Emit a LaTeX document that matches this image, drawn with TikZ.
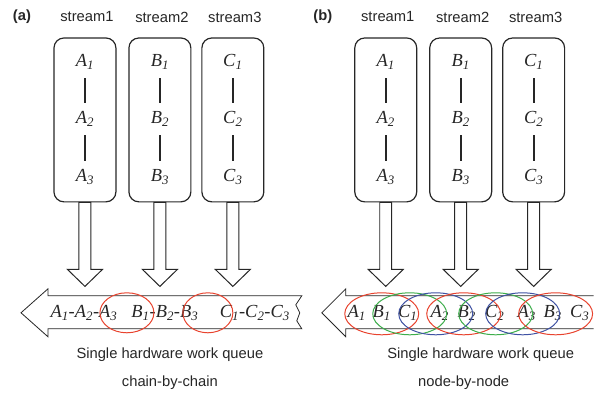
\documentclass[tikz,border=0pt]{standalone}
\usepackage{fontspec}
\setmainfont{Liberation Serif}
\setsansfont{Liberation Sans}
\begin{document}
\begin{tikzpicture}[x=1bp,y=-1bp,font=\sffamily\fontsize{14.8}{16}\selectfont]
  \definecolor{ink}{HTML}{262626}
  \definecolor{mark1}{HTML}{E8432E}
  \definecolor{mark2}{HTML}{3DAE4B}
  \definecolor{mark3}{HTML}{3F52A3}
  \tikzset{
    streambox/.style={draw=ink,line width=1.2pt,rounded corners=10bp,
      minimum width=62bp,minimum height=164bp,inner sep=0pt},
    elem/.style={font=\rmfamily\itshape\fontsize{18.5}{20}\selectfont,text=ink,
      inner sep=0pt,minimum height=32bp},
    hollow/.style={draw=ink,line width=1pt,fill=white,line join=miter},
    link/.style={ink,line width=2.2pt},
  }
  \foreach \x/\panel/\paneltitle in {0/a/{(a)},301/b/{(b)}}{
    \begin{scope}[shift={(\x,0)}]
      \node[font=\sffamily\bfseries\fontsize{14.8}{16}\selectfont,text=ink] (\panel tag) at (22,17) {\paneltitle};
      \foreach \n/\cx/\ltr in {1/85/A,2/160/B,3/233/C}{
        \node[text=ink] (\panel head\n) at (\cx+2,17) {stream\n};
        \node[streambox] (\panel box\n) at (\cx,120) {};
        \node[elem] (\panel\ltr1) at (\cx,62) {\ltr\textsubscript{1}};
        \node[elem] (\panel\ltr2) at (\cx,119) {\ltr\textsubscript{2}};
        \node[elem] (\panel\ltr3) at (\cx,177) {\ltr\textsubscript{3}};
        \draw[link] (\panel\ltr1) -- (\panel\ltr2);
        \draw[link] (\panel\ltr2) -- (\panel\ltr3);
        \draw[hollow] ([xshift=-6bp]\panel box\n.south) -- ++(0,67) -- ++(-11.5,0)
          -- ++(17.5,17) -- ++(17.5,-17) -- ++(-11.5,0) -- ++(0,-67) -- cycle;
      }
    \end{scope}
  }
  % queue (a)
  \draw[hollow,line width=0.8pt] (302,296) -- (48,296) -- (48,289) -- (21,313) -- (48,337)
    -- (48,329) -- (302,329) -- (297,321) -- (300,313) -- (296,305) -- cycle;
  \node[elem] (qA) at (84,313) {A\textsubscript{1}-A\textsubscript{2}-A\textsubscript{3}};
  \node[elem] (qB) at (165,313) {B\textsubscript{1}-B\textsubscript{2}-B\textsubscript{3}};
  \node[elem] (qC) at (255,313) {C\textsubscript{1}-C\textsubscript{2}-C\textsubscript{3}};
  \draw[mark1,line width=1pt] (127,313) ellipse [x radius=27,y radius=20];
  \draw[mark1,line width=1pt] (208,313) ellipse [x radius=25,y radius=20];
  \node[text=ink] (capA) at (170,355) {Single hardware work queue};
  \node[text=ink] (modeA) at (170,383) {chain-by-chain};
  % queue (b)
  \draw[hollow,line width=0.8pt] (594,296) -- (346,296) -- (346,289) -- (322,313) -- (346,337)
    -- (346,329) -- (594,329);
  \foreach \ltr/\sub/\cx in {A/1/357,B/1/382,C/1/408,A/2/440,B/2/467,C/2/495,A/3/527,B/3/553,C/3/580}{
    \node[elem] (q\ltr\sub) at (\cx,313) {\ltr\textsubscript{\sub}};
  }
  \foreach \cx/\col in {382/mark1,410/mark2,436/mark3,464/mark1,496/mark2,523/mark3,556/mark1}{
    \draw[\col,line width=1pt] (\cx,314) ellipse [x radius=37,y radius=21];
  }
  \node[text=ink] (capB) at (481,355) {Single hardware work queue};
  \node[text=ink] (modeB) at (464,383) {node-by-node};
  \path[use as bounding box] (0,0) rectangle (594,389);
\end{tikzpicture}
\end{document}
